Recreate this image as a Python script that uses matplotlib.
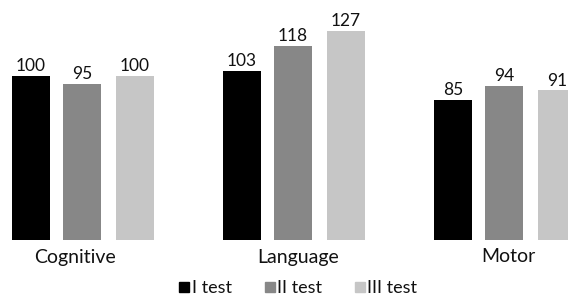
import matplotlib
matplotlib.use("Agg")
import matplotlib.pyplot as plt
from matplotlib.lines import Line2D
import numpy as np

categories = ["Cognitive", "Language", "Motor"]
series_names = ["I test", "II test", "III test"]
values_I = [100, 103, 85]
values_II = [95, 118, 94]
values_III = [100, 127, 91]
colors = ["#000000", "#878787", "#c6c6c6"]

W, H = 568, 296
fig = plt.figure(figsize=(W / 100, H / 100), dpi=100)
base_px = 240
ax = fig.add_axes([0, (H - base_px) / H, 1, base_px / H])

px_per_group = 211.0
x0_px = 82.0
px_per_unit = 1.643
ax.set_xlim(-x0_px / px_per_group, (W - x0_px) / px_per_group)
ax.set_ylim(0, base_px / px_per_unit)
ax.axis("off")

x = np.arange(len(categories))
width = 38 / px_per_group
offsets = [-51 / px_per_group, 0, 53 / px_per_group]
font = "Lato"
for vals, off, c in zip([values_I, values_II, values_III], offsets, colors):
    ax.bar(x + off, vals, width=width, color=c, clip_on=False)
    for xi, v in zip(x + off, vals):
        ax.text(xi, v + 1.2, str(v), ha="center", va="bottom", fontsize=12.5,
                family=font, color="#111111")

label_shift = [-7, 5, 4]
for xi, cat, s in zip(x, categories, label_shift):
    ax.text(xi + s / px_per_group, -17 / px_per_unit, cat, ha="center", va="center",
            fontsize=14, family=font, color="#111111")

handles = [Line2D([], [], marker="s", linestyle="none", color=c, markersize=6.5)
           for c in colors]
leg = fig.legend(handles, series_names, loc="center", bbox_to_anchor=(297 / W, 1 - 288 / H),
                 ncol=3, frameon=False, prop={"family": font, "size": 13},
                 handletextpad=0.0, columnspacing=1.7, handlelength=0.8)
for t in leg.get_texts():
    t.set_color("#111111")

fig.savefig("out.png", dpi=100)
